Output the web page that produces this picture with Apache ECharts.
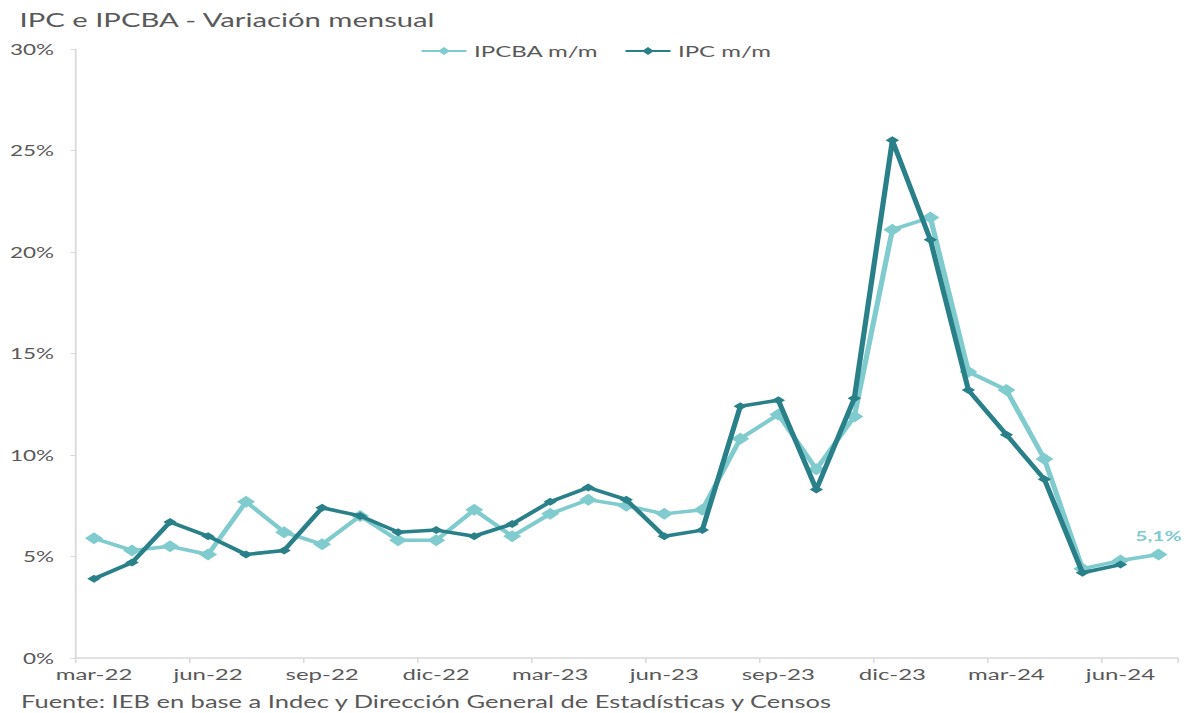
<!DOCTYPE html>
<html>
<head>
<meta charset="utf-8">
<script src="https://cdn.jsdelivr.net/npm/echarts@6/dist/echarts.min.js"></script>
<style>
  html, body { margin: 0; padding: 0; background: #ffffff; overflow: hidden; }
  #wrap { width: 1191px; height: 713px; overflow: hidden; }
  /* The chart is laid out on a narrower canvas and widened horizontally */
  #chart { width: 794px; height: 713px; transform: scaleX(1.5); transform-origin: 0 0; }
</style>
</head>
<body>
<div id="wrap"><div id="chart"></div></div>
<script>
const months = [
  'mar-22','abr-22','may-22','jun-22','jul-22','ago-22','sep-22','oct-22','nov-22','dic-22',
  'ene-23','feb-23','mar-23','abr-23','may-23','jun-23','jul-23','ago-23','sep-23','oct-23',
  'nov-23','dic-23','ene-24','feb-24','mar-24','abr-24','may-24','jun-24','jul-24'
];

// IPCBA (Ciudad de Buenos Aires), variación mensual %
const ipcba = [
  5.9, 5.3, 5.5, 5.1, 7.7, 6.2, 5.6, 7.0, 5.8, 5.8,
  7.3, 6.0, 7.1, 7.8, 7.5, 7.1, 7.3, 10.8, 12.0, 9.3,
  11.9, 21.1, 21.7, 14.1, 13.2, 9.8, 4.4, 4.8, 5.1
];

// IPC nacional, variación mensual %
const ipc = [
  3.9, 4.7, 6.7, 6.0, 5.1, 5.3, 7.4, 7.0, 6.2, 6.3,
  6.0, 6.6, 7.7, 8.4, 7.8, 6.0, 6.3, 12.4, 12.7, 8.3,
  12.8, 25.5, 20.6, 13.2, 11.0, 8.8, 4.2, 4.6
];

const FONT = 'Lato, "Noto Sans", sans-serif';
const GREY = '#595959';
const AXIS = '#d9d9d9';
const LIGHT = '#7fcbce';
const DARK = '#2a8089';

const fmtPct = v => v.toFixed(1).replace('.', ',') + '%';

const lastIdx = ipcba.length - 1;
const ipcbaData = ipcba.map((v, i) => i === lastIdx
  ? { value: v, label: { show: true, position: 'top', distance: 6, formatter: p => fmtPct(p.value),
      color: LIGHT, fontSize: 14, fontWeight: 'bold', fontFamily: FONT } }
  : v);

const chart = echarts.init(document.getElementById('chart'), null, { renderer: 'svg' });

chart.setOption({
  animation: false,
  backgroundColor: '#ffffff',
  textStyle: { fontFamily: FONT },
  title: [
    {
      text: 'IPC e IPCBA - Variación mensual',
      left: 13, top: 9, padding: 0,
      textStyle: { fontFamily: FONT, fontSize: 19.5, fontWeight: 'normal', color: GREY }
    },
    {
      text: 'Fuente: IEB en base a Indec y Dirección General de Estadísticas y Censos',
      left: 14, top: 693, padding: 0,
      textStyle: { fontFamily: FONT, fontSize: 17, fontWeight: 'normal', color: GREY }
    }
  ],
  legend: {
    top: 38,
    left: 'center',
    itemWidth: 30,
    itemHeight: 10,
    itemGap: 17,
    textStyle: { fontFamily: FONT, fontSize: 16, color: GREY },
    data: ['IPCBA m/m', 'IPC m/m']
  },
  grid: { left: 50, right: 9, top: 49, bottom: 55, containLabel: false },
  xAxis: {
    type: 'category',
    data: months,
    boundaryGap: true,
    axisLine: { lineStyle: { color: AXIS, width: 1.5 } },
    axisTick: { show: true, interval: 2, length: 5, lineStyle: { color: AXIS } },
    axisLabel: { interval: 2, color: GREY, fontSize: 16, margin: 8, fontFamily: FONT }
  },
  yAxis: {
    type: 'value',
    min: 0, max: 30, interval: 5,
    axisLine: { show: true, lineStyle: { color: AXIS, width: 1.2 } },
    axisTick: { show: true, length: 3, lineStyle: { color: AXIS } },
    splitLine: { show: false },
    axisLabel: { formatter: '{value}%', color: GREY, fontSize: 15, margin: 14, fontFamily: FONT }
  },
  series: [
    {
      name: 'IPCBA m/m',
      type: 'line',
      data: ipcbaData,
      symbol: 'diamond',
      symbolSize: 12,
      showAllSymbol: true,
      lineStyle: { color: LIGHT, width: 3.5 },
      itemStyle: { color: LIGHT },
      z: 2
    },
    {
      name: 'IPC m/m',
      type: 'line',
      data: ipc,
      symbol: 'diamond',
      symbolSize: [9, 8],
      showAllSymbol: true,
      lineStyle: { color: DARK, width: 3.5 },
      itemStyle: { color: DARK },
      z: 3
    }
  ]
});
</script>
</body>
</html>
